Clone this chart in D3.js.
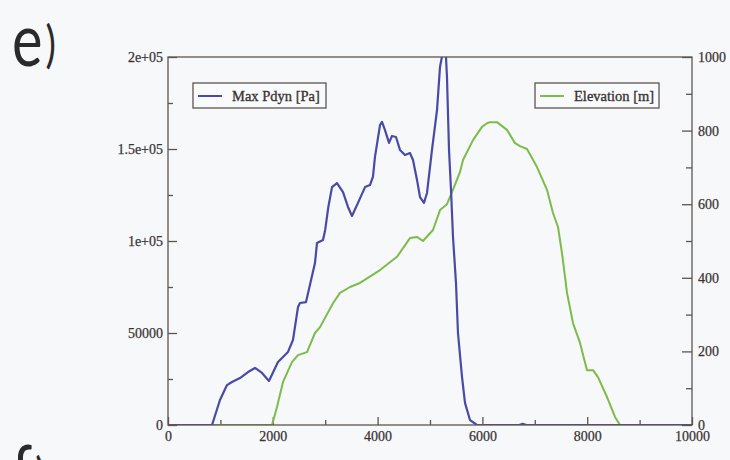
<!DOCTYPE html>
<html>
<head>
<meta charset="utf-8">
<script src="https://cdn.jsdelivr.net/npm/d3@7/dist/d3.min.js"></script>
<style>
  html, body { margin: 0; padding: 0; background: #f6f8fa; }
  svg { display: block; }
  .tick text { font-family: "Liberation Serif", "Times New Roman", serif; font-size: 14px; fill: #3b3434; stroke: #3b3434; stroke-width: 0.25; }
  .tick line { stroke: #5e5552; stroke-width: 1.3; }
  .domain { stroke: none; }
</style>
</head>
<body>
<svg id="chart" width="730" height="460"></svg>
<script>
// Max dynamic pressure along the path (distance in m, pressure in Pa)
const pdynDist = [
  0, 840, 992, 1126, 1221, 1374, 1527, 1660, 1794, 1927, 2099, 2290,
  2385, 2481, 2519, 2634, 2805, 2843, 2958, 3000, 3060, 3130,
  3225, 3340, 3435, 3511, 3626, 3760, 3855, 3912, 3950, 4046,
  4084, 4141, 4218, 4275, 4351, 4427, 4523, 4618, 4676, 4752,
  4809, 4885, 4943, 5038, 5134, 5191, 5250, 5300, 5324, 5363,
  5401, 5439, 5496, 5534, 5611, 5668, 5763, 5897, 6700, 6770,
  6840, 10000];
const pdynVal = [
  0, 0, 13600, 21700, 23400, 25500, 28800, 31000, 28300, 23900, 34200, 39700,
  46200, 64100, 66300, 66800, 88000, 98900, 100500, 106000, 118500, 129300,
  131500, 126600, 118500, 113600, 120700, 129300, 130400, 135000, 145700, 163000,
  164700, 160300, 153300, 157100, 156500, 149500, 146700, 147800, 144000, 133200,
  123900, 120700, 126100, 149500, 171200, 194600, 203500, 203000, 189100, 149500,
  127700, 102200, 77200, 50000, 26100, 12000, 2700, 0, 0, 600,
  0, 0];

// Ground elevation along the same path (m)
const elevDist = [
  0, 1985, 2080, 2195, 2366, 2481, 2653, 2805, 2901, 3149,
  3282, 3473, 3664, 4046, 4370, 4618, 4752, 4866, 5057, 5191,
  5324, 5420, 5572, 5630, 5821, 5992, 6088, 6145, 6278, 6469,
  6622, 6718, 6851, 7042, 7233, 7347, 7443, 7519, 7615, 7729,
  7863, 7996, 8111, 8206, 8378, 8531, 8626, 10000];
const elevVal = [
  0, 0, 49, 117, 171, 190, 198, 250, 266, 331,
  359, 375, 386, 421, 457, 508, 511, 500, 530, 584,
  600, 633, 687, 720, 774, 810, 820, 823, 823, 802,
  766, 758, 750, 701, 639, 576, 538, 467, 359, 277,
  223, 149, 149, 130, 76, 22, 0, 0];

// Axis ticks and their labels
const xTicks = [0, 2000, 4000, 6000, 8000, 10000];
const xTickLabels = ["0", "2000", "4000", "6000", "8000", "10000"];
const xMinor = [1000, 3000, 5000, 7000, 9000];
const leftTicks = [0, 50000, 100000, 150000, 200000];
const leftTickLabels = ["0", "50000", "1e+05", "1.5e+05", "2e+05"];
const leftMinor = [25000, 75000, 125000, 175000];
const rightTicks = [0, 200, 400, 600, 800, 1000];
const rightTickLabels = ["0", "200", "400", "600", "800", "1000"];
const rightMinor = [100, 300, 500, 700, 900];

const seriesNames = ["Max Pdyn [Pa]", "Elevation [m]"];
const seriesColors = ["#4a4aa6", "#7dbb4a"];

const svg = d3.select("#chart");
const L = 168, T = 57, W = 524, H = 368;

const x = d3.scaleLinear().domain([0, 10000]).range([L, L + W]);
const yL = d3.scaleLinear().domain([0, 200000]).range([T + H, T]);
const yR = d3.scaleLinear().domain([0, 1000]).range([T + H, T]);

// plot clip
svg.append("defs").append("clipPath").attr("id", "plotClip")
  .append("rect").attr("x", L).attr("y", T).attr("width", W).attr("height", H);

// panel letters
const letterFont = "Lato, 'Open Sans', 'DejaVu Sans', sans-serif";
function panelLetter(letter, tx, ty) {
  const t = svg.append("text")
    .attr("transform", `translate(${tx},${ty}) scale(0.78,1)`)
    .attr("font-family", letterFont)
    .attr("font-weight", 400)
    .attr("fill", "#2a2a2a");
  t.append("tspan").attr("font-size", 74).text(letter);
  t.append("tspan").attr("font-size", 50).attr("dx", 4).attr("dy", -4.5).text(")");
}
panelLetter("e", 12, 66);
panelLetter("f", 12, 498);

// minor ticks
svg.append("g").attr("transform", `translate(${L},0)`)
  .call(d3.axisLeft(yL).tickValues(leftMinor).tickFormat("").tickSizeInner(-5).tickSizeOuter(0));
svg.append("g").attr("transform", `translate(${L + W},0)`)
  .call(d3.axisRight(yR).tickValues(rightMinor).tickFormat("").tickSizeInner(-6).tickSizeOuter(0));
svg.append("g").attr("transform", `translate(0,${T + H})`)
  .call(d3.axisBottom(x).tickValues(xMinor).tickFormat("").tickSizeInner(-5).tickSizeOuter(0));

// major ticks with labels
svg.append("g").attr("transform", `translate(${L},0)`)
  .call(d3.axisLeft(yL).tickValues(leftTicks)
    .tickFormat((d, i) => leftTickLabels[i]).tickSizeInner(-9).tickSizeOuter(0).tickPadding(5));
svg.append("g").attr("transform", `translate(${L + W},0)`)
  .call(d3.axisRight(yR).tickValues(rightTicks)
    .tickFormat((d, i) => rightTickLabels[i]).tickSizeInner(-10).tickSizeOuter(0).tickPadding(6));
svg.append("g").attr("transform", `translate(0,${T + H})`)
  .call(d3.axisBottom(x).tickValues(xTicks)
    .tickFormat((d, i) => xTickLabels[i]).tickSizeInner(-8).tickSizeOuter(0).tickPadding(6));

// data lines
const lineL = d3.line().x((d, i) => x(pdynDist[i])).y(d => yL(d));
const lineR = d3.line().x((d, i) => x(elevDist[i])).y(d => yR(d));
const plot = svg.append("g").attr("clip-path", "url(#plotClip)");
plot.append("path").datum(elevVal).attr("d", lineR)
  .attr("fill", "none").attr("stroke", seriesColors[1]).attr("stroke-width", 2).attr("stroke-linejoin", "round");
plot.append("path").datum(pdynVal).attr("d", lineL)
  .attr("fill", "none").attr("stroke", seriesColors[0]).attr("stroke-width", 2.2).attr("stroke-linejoin", "round");

// frame
svg.append("rect").attr("x", L).attr("y", T).attr("width", W).attr("height", H)
  .attr("fill", "none").attr("stroke", "#5e5552").attr("stroke-width", 1.3);

// legends
const legends = [
  { box: [193, 83, 133, 25], name: seriesNames[0], color: seriesColors[0] },
  { box: [535, 83, 124, 25], name: seriesNames[1], color: seriesColors[1] }
];
legends.forEach(lg => {
  const [bx, by, bw, bh] = lg.box;
  const g = svg.append("g");
  g.append("rect").attr("x", bx).attr("y", by).attr("width", bw).attr("height", bh)
    .attr("fill", "#f8fafb").attr("stroke", "#5e5552").attr("stroke-width", 1.3);
  g.append("line").attr("x1", bx + 5).attr("x2", bx + 29).attr("y1", by + 13).attr("y2", by + 13)
    .attr("stroke", lg.color).attr("stroke-width", 2);
  g.append("text").attr("x", bx + 39).attr("y", by + 17.5)
    .attr("font-family", "'Liberation Serif', 'Times New Roman', serif")
    .attr("font-size", 14.5).attr("fill", "#3b3434")
    .attr("stroke", "#3b3434").attr("stroke-width", 0.35).text(lg.name);
});
</script>
</body>
</html>
